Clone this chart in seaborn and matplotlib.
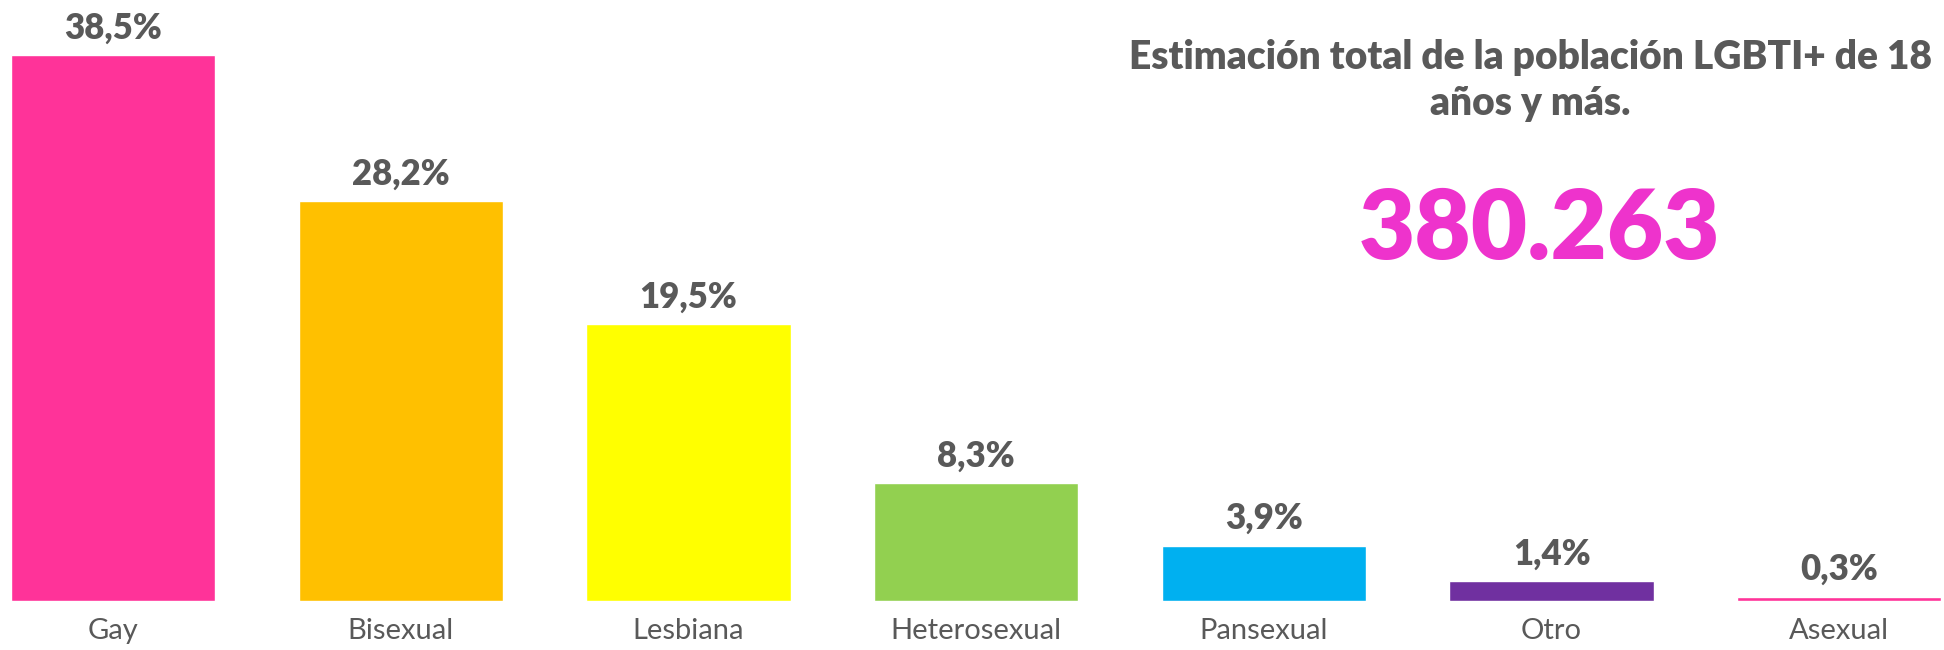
import matplotlib
matplotlib.use("Agg")
import matplotlib.pyplot as plt
import seaborn as sns
import pandas as pd

categories = ["Gay", "Bisexual", "Lesbiana", "Heterosexual", "Pansexual", "Otro", "Asexual"]
values = [38.5, 28.2, 19.5, 8.3, 3.9, 1.4, 0.3]
value_labels = ["38,5%", "28,2%", "19,5%", "8,3%", "3,9%", "1,4%", "0,3%"]
colors = ["#FF3399", "#FFC000", "#FFFF00", "#92D050", "#00B0F0", "#7030A0", "#FF3399"]
title_lines = ["Estimación total de la población LGBTI+ de 18", "años y más."]
total_text = "380.263"

sns.set_theme(style="white")
plt.rcParams["font.family"] = ["Lato", "DejaVu Sans"]

df = pd.DataFrame({"cat": categories, "val": values})

W, H = 1944, 650
fig = plt.figure(figsize=(W / 100, H / 100), dpi=100)
ax = fig.add_axes([0, 49 / H, 1, 601 / H])
sns.barplot(data=df, x="cat", y="val", hue="cat", palette=colors, legend=False,
            width=0.71, saturation=1, ax=ax)

ax.set_xlim(-0.393, 6.364)
ax.set_ylim(0, 42.38)
for s in ax.spines.values():
    s.set_visible(False)
ax.set_yticks([])
ax.set_xlabel("")
ax.set_ylabel("")
ax.tick_params(axis="x", length=0, pad=12, labelsize=21, labelcolor="#595959")
for t in ax.get_xticklabels():
    t.set_fontweight("normal")

for i, (v, lab) in enumerate(zip(values, value_labels)):
    ax.annotate(lab, xy=(i, v), xytext=(0, 19.5), textcoords="offset points",
                ha="center", va="center", fontsize=25, fontweight="heavy", color="#595959")

cx = 1530 / W
fig.text(cx, 1 - 57 / H, title_lines[0], ha="center", va="center",
         fontsize=28, fontweight="heavy", color="#595959")
fig.text(cx, 1 - 104 / H, title_lines[1], ha="center", va="center",
         fontsize=28, fontweight="heavy", color="#595959")
fig.text(1540 / W, 1 - 231 / H, total_text, ha="center", va="center",
         fontsize=70, fontweight="heavy", color="#EE33CC")

fig.savefig("out.png", dpi=100)
